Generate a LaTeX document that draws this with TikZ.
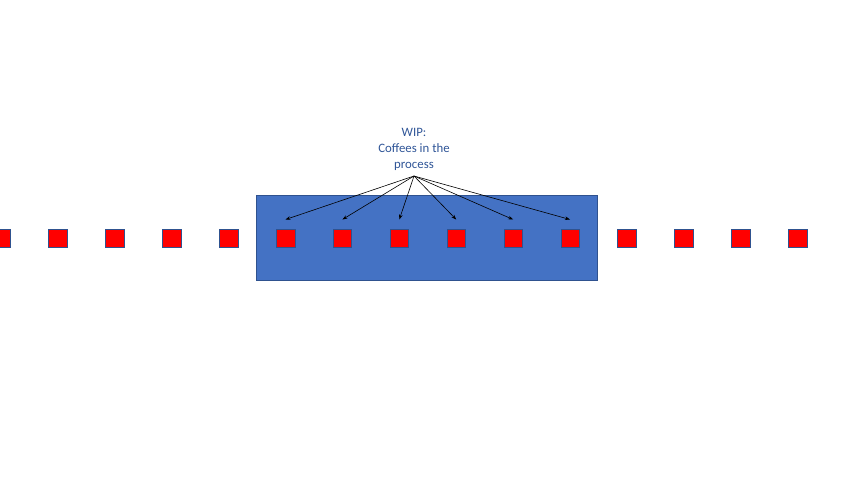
\documentclass[tikz,border=0pt]{standalone}
\usepackage{fontspec}
\setmainfont{Carlito}
\usepackage{tikz}
\usetikzlibrary{arrows.meta,positioning,calc}
\definecolor{boxblue}{RGB}{68,114,196}
\definecolor{edgeblue}{RGB}{47,82,143}
\definecolor{labelblue}{RGB}{47,85,151}
\definecolor{cupred}{RGB}{255,0,0}

\begin{document}
\begin{tikzpicture}[x=1pt, y=-1pt, >={Stealth[length=5pt,width=3.6pt]}]
  \useasboundingbox (0,0) rectangle (853,480);
  \node[draw=edgeblue, line width=0.6pt, fill=boxblue, minimum width=341pt, minimum height=85pt, inner sep=0pt, anchor=north west] (proc) at (256,195) {};
  \foreach \i in {0,...,14}
    \node[draw=edgeblue, line width=0.5pt, fill=cupred, minimum size=18.5pt, inner sep=0pt] (c\i) at ({1+\i*56.9},238) {};
  \node[font=\fontsize{12.8}{16}\selectfont, text=labelblue, align=center, anchor=south, inner xsep=2pt, inner ysep=5pt] (wip) at (414,176) {WIP:\\Coffees in the\\process};

  \foreach \i in {5,...,10}
    \draw[->, line width=0.6pt] (wip.south) -- ([yshift=9pt]c\i.north);
\end{tikzpicture}
\end{document}
